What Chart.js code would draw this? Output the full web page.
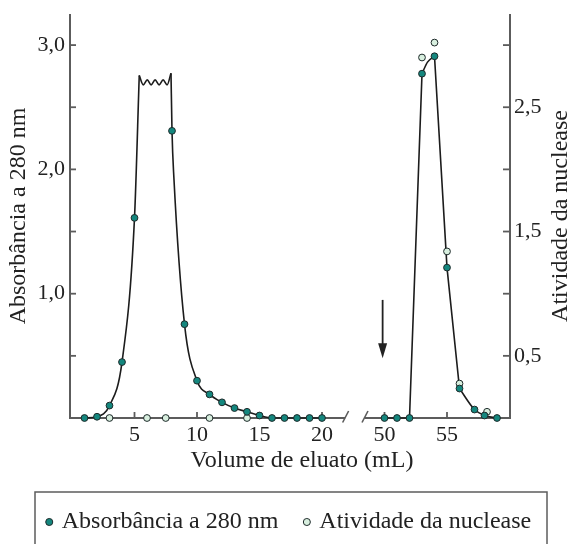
<!DOCTYPE html>
<html>
<head>
<meta charset="utf-8">
<script src="https://cdn.jsdelivr.net/npm/chart.js@4.4.1/dist/chart.umd.min.js"></script>
<style>
  body { margin: 0; background: #fff; }
</style>
</head>
<body>
<canvas id="myChart" width="568" height="544"></canvas>
<script>
// Absorbância a 280 nm (pontos cheios)
const absVolume = [1, 2, 3, 4, 5, 8, 9, 10, 11, 12, 13, 14, 15, 16, 17, 18, 19, 20,
  50, 51, 52, 53, 54, 55, 56, 57.2, 58, 59];
const absValue = [0, 0.01, 0.1, 0.45, 1.61, 2.31, 0.755, 0.3, 0.19, 0.126, 0.08, 0.05, 0.02, 0, 0, 0, 0, 0,
  0, 0, 0, 2.77, 2.91, 1.21, 0.237, 0.068, 0.02, 0];

// Atividade da nuclease (pontos claros)
const nucVolume = [3, 6, 7.5, 11, 14, 53, 54, 55, 56, 58.2];
const nucValue = [0, 0, 0, 0, 0, 2.9, 3.02, 1.34, 0.277, 0.05];

// traced curve, split where the drawing has sharp corners
const traceParts = [
  { vol: [1, 2, 3, 4, 5, 5.38], val: [0, 0.01, 0.1, 0.45, 1.61, 2.756], smooth: true },
  { vol: [5.38, 5.7, 6.02, 6.33, 6.65, 6.97, 7.29, 7.61, 7.92],
    val: [2.756, 2.68, 2.72, 2.68, 2.72, 2.68, 2.72, 2.68, 2.774], smooth: true },
  { vol: [7.92, 8, 8.15, 9, 10, 11, 12, 13, 14, 15, 16, 17, 18, 19, 20],
    val: [2.774, 2.31, 1.935, 0.755, 0.3, 0.19, 0.126, 0.08, 0.05, 0.02, 0, 0, 0, 0, 0], smooth: true },
  { vol: [50, 51, 52, 53], val: [0, 0, 0, 2.77], smooth: false },
  { vol: [53, 53.44, 54], val: [2.77, 2.863, 2.91], smooth: true },
  { vol: [54, 55, 56], val: [2.91, 1.21, 0.237], smooth: false },
  { vol: [56, 57.2, 58, 59], val: [0.237, 0.068, 0.02, 0], smooth: true },
];

const xTickVolumes = [5, 10, 15, 20, 50, 55];
const yLeftTicks = [1, 2, 3];
const yRightTicks = [0.5, 1.5, 2.5];
const yMinorTicks = [0.5, 1, 1.5, 2, 2.5, 3];
const axisBreak = [21.85, 23.4];
const arrowVolume = 49.85;
const arrowSpan = [0.95, 0.48];

// the x axis is broken between 20 and 50 mL
const GAP = 25;
const toAxis = (v) => (v > 30 ? v - GAP : v);
const fromAxis = (v) => (v > 22 ? v + GAP : v);
const comma = (v) => v.toFixed(1).replace(".", ",");

const teal = "#14877e";
const pale = "#d8efdf";
const edge = "#1e2a2a";
const ink = "#222222";
const axisColor = "#5c5c5c";
const serif = "'Liberation Serif', 'DejaVu Serif', serif";

Chart.defaults.font.family = serif;
Chart.defaults.color = ink;

const pts = (xs, ys) => xs.map((v, i) => ({ x: toAxis(v), y: ys[i] }));

const datasets = [
  {
    label: "Absorbância a 280 nm",
    data: pts(absVolume, absValue),
    yAxisID: "y",
    showLine: false,
    pointRadius: 3.4,
    pointBorderWidth: 1,
    pointBackgroundColor: teal,
    pointBorderColor: edge,
    clip: false,
    order: 0,
  },
  {
    label: "Atividade da nuclease",
    data: pts(nucVolume, nucValue),
    yAxisID: "y2",
    showLine: false,
    pointRadius: 3.4,
    pointBorderWidth: 1,
    pointBackgroundColor: pale,
    pointBorderColor: edge,
    clip: false,
    order: 0,
  },
];
traceParts.forEach((p) => {
  datasets.push({
    label: "trace",
    data: pts(p.vol, p.val),
    yAxisID: "y",
    borderColor: "#1c1c1c",
    borderWidth: 1.6,
    pointRadius: 0,
    fill: false,
    tension: 0,
    cubicInterpolationMode: p.smooth ? "monotone" : "default",
    clip: false,
    order: 1,
  });
});

const drawTitle = (ctx, text, x, y, rotated) => {
  ctx.save();
  ctx.translate(x, y);
  if (rotated) ctx.rotate(-Math.PI / 2);
  ctx.font = "24px " + serif;
  ctx.fillStyle = ink;
  ctx.textAlign = "center";
  ctx.textBaseline = rotated ? "middle" : "alphabetic";
  ctx.fillText(text, 0, 0);
  ctx.restore();
};

const decor = {
  id: "decor",
  beforeDatasetsDraw(chart) {
    const { ctx, chartArea: { left, right, top, bottom }, scales: { x, y } } = chart;
    const line = (x1, y1, x2, y2) => {
      ctx.beginPath();
      ctx.moveTo(x1, y1);
      ctx.lineTo(x2, y2);
      ctx.stroke();
    };
    ctx.save();
    ctx.strokeStyle = axisColor;
    ctx.lineWidth = 2;
    line(left, top, left, bottom + 1);
    line(right, top, right, bottom + 1);
    const b1 = x.getPixelForValue(axisBreak[0]);
    const b2 = x.getPixelForValue(axisBreak[1]);
    line(left - 1, bottom, b1, bottom);
    line(b2, bottom, right + 1, bottom);
    ctx.lineWidth = 1.6;
    [b1, b2].forEach((b) => line(b - 2.5, bottom + 4.5, b + 3.5, bottom - 7));
    ctx.lineWidth = 1.8;
    yMinorTicks.forEach((v) => {
      const py = y.getPixelForValue(v);
      line(left, py, left + 6, py);
      line(right - 7, py, right, py);
    });
    xTickVolumes.forEach((v) => {
      const px = x.getPixelForValue(toAxis(v));
      line(px, bottom, px, bottom - 6);
    });
    ctx.restore();
  },
  afterDraw(chart) {
    const { ctx, chartArea: { left, right, top, bottom }, scales: { x, y } } = chart;
    ctx.save();
    // arrow at the start of the second elution
    const ax = x.getPixelForValue(toAxis(arrowVolume));
    const y1 = y.getPixelForValue(arrowSpan[0]);
    const tip = y.getPixelForValue(arrowSpan[1]);
    ctx.strokeStyle = ink;
    ctx.fillStyle = ink;
    ctx.lineWidth = 1.8;
    ctx.beginPath();
    ctx.moveTo(ax, y1);
    ctx.lineTo(ax, tip - 12);
    ctx.stroke();
    ctx.beginPath();
    ctx.moveTo(ax - 4.5, tip - 15);
    ctx.lineTo(ax + 4.5, tip - 15);
    ctx.lineTo(ax, tip);
    ctx.closePath();
    ctx.fill();

    // frame round the legend
    const lg = chart.legend;
    ctx.strokeStyle = axisColor;
    ctx.lineWidth = 1.5;
    ctx.strokeRect(lg.left + 23, lg.top + 10, lg.width - 44, chart.height);
    ctx.restore();

    // axis titles
    const midY = (top + bottom) / 2;
    drawTitle(ctx, "Absorbância a 280 nm", left - 51, midY, true);
    drawTitle(ctx, "Atividade da nuclease", right + 51, midY, true);
    drawTitle(ctx, "Volume de eluato (mL)", (left + right) / 2 + 12, bottom + 49, false);
  },
};

const noPad = (s) => {
  s.paddingTop = 0;
  s.paddingBottom = 0;
  s.paddingLeft = 0;
  s.paddingRight = 0;
};

new Chart(document.getElementById("myChart"), {
  type: "line",
  data: { datasets },
  options: {
    responsive: false,
    animation: false,
    events: [],
    layout: { padding: { top: 14, left: 12, right: 0, bottom: 0 } },
    plugins: {
      tooltip: { enabled: false },
      legend: {
        position: "bottom",
        labels: {
          filter: (item) => item.datasetIndex < 2,
          usePointStyle: true,
          pointStyle: "circle",
          boxWidth: 1,
          boxHeight: 5,
          padding: 28,
          color: ink,
          font: { size: 24, family: serif },
        },
      },
    },
    scales: {
      x: {
        type: "linear",
        min: -0.16,
        max: 35.04,
        afterFit: (s) => { s.height = 64; noPad(s); },
        afterBuildTicks: (s) => { s.ticks = xTickVolumes.map((v) => ({ value: toAxis(v) })); },
        ticks: {
          callback: (v) => String(fromAxis(v)),
          padding: 4,
          maxRotation: 0,
          autoSkip: false,
          color: ink,
          font: { size: 22 },
        },
        grid: { display: false, drawTicks: false },
        border: { display: false },
      },
      y: {
        position: "left",
        min: 0,
        max: 3.25,
        afterFit: (s) => { s.width = 58; noPad(s); },
        afterBuildTicks: (s) => { s.ticks = yLeftTicks.map((v) => ({ value: v })); },
        ticks: { callback: (v) => comma(v), padding: 5, color: ink, font: { size: 22 } },
        grid: { display: false, drawTicks: false },
        border: { display: false },
      },
      y2: {
        position: "right",
        min: 0,
        max: 3.25,
        afterFit: (s) => { s.width = 58; noPad(s); },
        afterBuildTicks: (s) => { s.ticks = yRightTicks.map((v) => ({ value: v })); },
        ticks: { callback: (v) => comma(v), padding: 4, color: ink, font: { size: 22 } },
        grid: { display: false, drawTicks: false },
        border: { display: false },
      },
    },
  },
  plugins: [decor],
});
</script>
</body>
</html>
